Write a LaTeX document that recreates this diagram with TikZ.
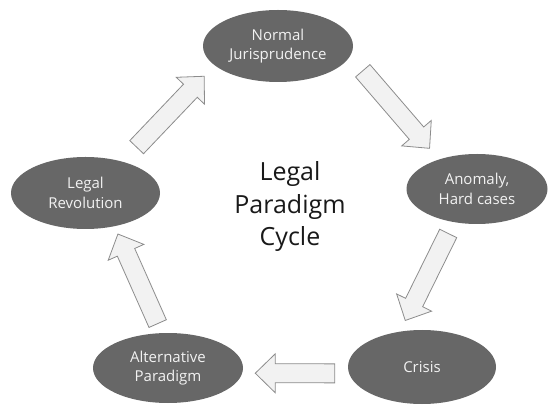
\documentclass[tikz,border=0pt]{standalone}
\usepackage{fontspec}
\setmainfont{Open Sans}
\usetikzlibrary{calc,shapes.geometric}
\definecolor{ovalgray}{RGB}{103,103,103}
\definecolor{ovaltext}{RGB}{242,242,242}
\definecolor{arrowfill}{RGB}{242,242,242}
\definecolor{arrowline}{RGB}{140,140,140}
\tikzset{
  stage/.style={ellipse, fill=ovalgray, text=ovaltext, inner sep=0pt,
                minimum width=150pt, minimum height=72pt, align=center,
                font=\fontsize{15}{19.5}\selectfont},
  blockarr/.style={fill=arrowfill, draw=arrowline, line width=0.8pt, line join=miter},
  cycletitle/.style={align=center, font=\fontsize{25}{32.5}\selectfont, text=black!90},
}
\newcommand{\shafthalf}{9.5pt}
\newcommand{\headhalf}{19.5pt}
\newcommand{\headlen}{20pt}

\begin{document}
\begin{tikzpicture}[x=1pt,y=1pt]
  \useasboundingbox (0,0) rectangle (548,404);
  % stages of the cycle
  \node[stage] (norm) at (278,358) {Normal\\Jurisprudence};
  \node[stage, minimum width=141pt, minimum height=70pt] (anom) at (477,215) {Anomaly,\\Hard cases};
  \node[stage, minimum width=148pt, minimum height=74pt] (crisis) at (422,37) {Crisis};
  \node[stage, minimum height=70pt] (alt) at (168,36) {Alternative\\Paradigm};
  \node[stage, minimum width=149pt] (rev) at (85.5,211) {Legal\\Revolution};
  \node[cycletitle] (title) at (290,197) {Legal\\Paradigm\\Cycle};
  % block arrows between the stages
  \foreach \a/\b/\ga/\gb in {rev.40/norm.197/20/15, norm.352/anom.142/19.3/14.5,
      anom.235/crisis.122/12.5/12.3, crisis.185/alt.356/14.1/12.9, alt.100/rev.311/10.2/8.4} {
    \coordinate (s) at ($(\a)!\ga pt!(\b)$);
    \coordinate (t) at ($(\b)!\gb pt!(\a)$);
    \coordinate (h) at ($(t)!\headlen!(s)$);
    \draw[blockarr] ($(s)!\shafthalf!90:(t)$) -- ($(h)!\shafthalf!90:(t)$)
      -- ($(h)!\headhalf!90:(t)$) -- (t) -- ($(h)!\headhalf!-90:(t)$)
      -- ($(h)!\shafthalf!-90:(t)$) -- ($(s)!\shafthalf!-90:(t)$) -- cycle;
  }
\end{tikzpicture}
\end{document}
